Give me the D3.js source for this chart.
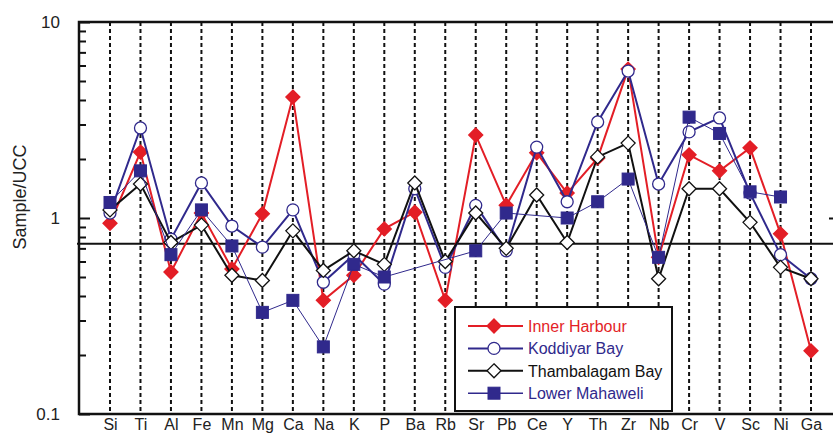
<!DOCTYPE html>
<html>
<head>
<meta charset="utf-8">
<script src="https://cdn.jsdelivr.net/npm/d3@7"></script>
<style>
  body { margin: 0; background: #fff; }
  svg { display: block; font-family: "Liberation Sans", Arial, sans-serif; }
</style>
</head>
<body>
<div class="chart"></div>
<script>
var categories = ["Si", "Ti", "Al", "Fe", "Mn", "Mg", "Ca", "Na", "K", "P", "Ba", "Rb",
  "Sr", "Pb", "Ce", "Y", "Th", "Zr", "Nb", "Cr", "V", "Sc", "Ni", "Ga"];

var innerHarbour = [0.94, 2.17, 0.53, 1.06, 0.55, 1.05, 4.14, 0.38, 0.51, 0.88, 1.07, 0.38,
  2.65, 1.16, 2.15, 1.34, 2.02, 5.75, 0.63, 2.1, 1.74, 2.28, 0.83, 0.21];
var koddiyarBay = [1.06, 2.88, 0.78, 1.51, 0.91, 0.71, 1.1, 0.47, 0.65, 0.46, 1.41, 0.56,
  1.16, 0.68, 2.3, 1.21, 3.09, 5.62, 1.49, 2.75, 3.24, 1.34, 0.65, 0.49];
var thambalagamBay = [1.1, 1.49, 0.75, 0.92, 0.51, 0.48, 0.86, 0.54, 0.68, 0.58, 1.51, 0.6,
  1.06, 0.7, 1.31, 0.75, 2.05, 2.41, 0.49, 1.41, 1.41, 0.95, 0.56, 0.49];
var lowerMahaweli = [1.2, 1.74, 0.65, 1.1, 0.72, 0.33, 0.38, 0.22, 0.58, 0.5, null, null,
  0.68, 1.06, null, 1.0, 1.21, 1.58, 0.63, 3.27, 2.7, 1.36, 1.28, null];

var referenceLevel = 0.74;
var yMajorTicks = [0.1, 1, 10];
var yMinorTicks = [0.2, 0.3, 0.4, 0.5, 0.6, 0.7, 0.8, 0.9, 2, 3, 4, 5, 6, 7, 8, 9];

var red = "#e31e26";
var blue = "#30298c";

var series = [
  { name: "Inner Harbour", values: innerHarbour, color: red, text: red, width: 2, marker: "diamond", fill: red },
  { name: "Koddiyar Bay", values: koddiyarBay, color: blue, text: blue, width: 2, marker: "circle", fill: "#fff" },
  { name: "Thambalagam Bay", values: thambalagamBay, color: "#111", text: "#111", width: 2, marker: "diamond", fill: "#fff" },
  { name: "Lower Mahaweli", values: lowerMahaweli, color: blue, text: blue, width: 1, marker: "square", fill: blue }
];

var width = 833;
var height = 434;
var plotLeft = 79, plotRight = 837, plotTop = 22, plotBottom = 414;

var x = d3.scalePoint().domain(categories).range([110, 811]);
var y = d3.scaleLog().domain([0.1, 10]).range([plotBottom, plotTop]);

var svg = d3.select(".chart").append("svg")
  .attr("width", width)
  .attr("height", height);

// dashed guides at each element
svg.append("g").selectAll("line").data(categories).enter().append("line")
  .attr("x1", function(d) { return x(d); })
  .attr("x2", function(d) { return x(d); })
  .attr("y1", plotTop)
  .attr("y2", plotBottom)
  .attr("stroke", "#111")
  .attr("stroke-width", 2)
  .attr("stroke-dasharray", "4,3");

// reference line
svg.append("line")
  .attr("x1", plotLeft - 2).attr("x2", plotRight)
  .attr("y1", y(referenceLevel)).attr("y2", y(referenceLevel))
  .attr("stroke", "#111").attr("stroke-width", 2);

// axes
var yAxis = svg.append("g").attr("transform", "translate(" + plotLeft + ",0)")
  .call(d3.axisLeft(y).tickValues(yMajorTicks).tickSize(-11).tickPadding(19)
    .tickFormat(function(d) { return d === 0.1 ? "0.1" : d3.format("d")(d); }));
var yMinor = svg.append("g").attr("transform", "translate(" + plotLeft + ",0)")
  .call(d3.axisLeft(y).tickValues(yMinorTicks).tickSize(-7).tickFormat(""));
var yRight = svg.append("g").attr("transform", "translate(" + plotRight + ",0)")
  .call(d3.axisRight(y).tickValues([1]).tickSize(-8).tickFormat(""));
var xAxis = svg.append("g").attr("transform", "translate(0," + plotBottom + ")")
  .call(d3.axisBottom(x).tickSize(0).tickPadding(5));

[yAxis, yMinor, yRight].forEach(function(g) {
  g.select(".domain").remove();
  g.selectAll(".tick line").attr("stroke", "#111").attr("stroke-width", 2);
  g.selectAll("text").attr("fill", "#222").style("font-size", "17px")
    .style("font-family", "\"Liberation Sans\", Arial, sans-serif");
});
xAxis.select(".domain").remove();
xAxis.selectAll("text").attr("fill", "#222").style("font-size", "16px")
  .style("font-family", "\"Liberation Sans\", Arial, sans-serif");

// frame
svg.append("rect")
  .attr("x", plotLeft).attr("y", plotTop)
  .attr("width", plotRight - plotLeft).attr("height", plotBottom - plotTop)
  .attr("fill", "none").attr("stroke", "#111").attr("stroke-width", 2.5);

svg.append("text")
  .attr("transform", "translate(26," + 197 + ") rotate(-90)")
  .attr("text-anchor", "middle")
  .attr("fill", "#222")
  .style("font-size", "18px")
  .text("Sample/UCC");

function drawMarker(g, s, cx, cy) {
  if (s.marker === "diamond") {
    g.append("path")
      .attr("d", "M" + cx + "," + (cy - 7) + "L" + (cx + 7) + "," + cy + "L" + cx + "," + (cy + 7) + "L" + (cx - 7) + "," + cy + "Z")
      .attr("fill", s.fill).attr("stroke", s.color).attr("stroke-width", 1.3);
  } else if (s.marker === "circle") {
    g.append("circle").attr("cx", cx).attr("cy", cy).attr("r", 6)
      .attr("fill", s.fill).attr("stroke", s.color).attr("stroke-width", 1.3);
  } else {
    g.append("rect").attr("x", cx - 6).attr("y", cy - 6).attr("width", 12).attr("height", 12)
      .attr("fill", s.fill).attr("stroke", s.color).attr("stroke-width", 1);
  }
}

var line = d3.line()
  .x(function(d) { return x(d.cat); })
  .y(function(d) { return y(d.v); });

series.forEach(function(s) {
  var pts = categories.map(function(c, i) { return { cat: c, v: s.values[i] }; })
    .filter(function(d) { return d.v != null; });
  var g = svg.append("g");
  g.append("path").datum(pts)
    .attr("d", line)
    .attr("fill", "none")
    .attr("stroke", s.color)
    .attr("stroke-width", s.width);
  pts.forEach(function(d) { drawMarker(g, s, x(d.cat), y(d.v)); });
});

// legend
var legend = svg.append("g");
legend.append("rect")
  .attr("x", 455).attr("y", 307).attr("width", 217).attr("height", 104)
  .attr("fill", "#fff").attr("stroke", "#111").attr("stroke-width", 2);
series.forEach(function(s, i) {
  var ly = 326 + i * 22.4;
  legend.append("line")
    .attr("x1", 468).attr("x2", 523).attr("y1", ly).attr("y2", ly)
    .attr("stroke", s.color).attr("stroke-width", s.width === 1 ? 1.5 : 2);
  drawMarker(legend, s, 494, ly);
  legend.append("text")
    .attr("x", 528).attr("y", ly + 6)
    .attr("fill", s.text)
    .style("font-size", "16px")
    .text(s.name);
});
</script>
</body>
</html>
